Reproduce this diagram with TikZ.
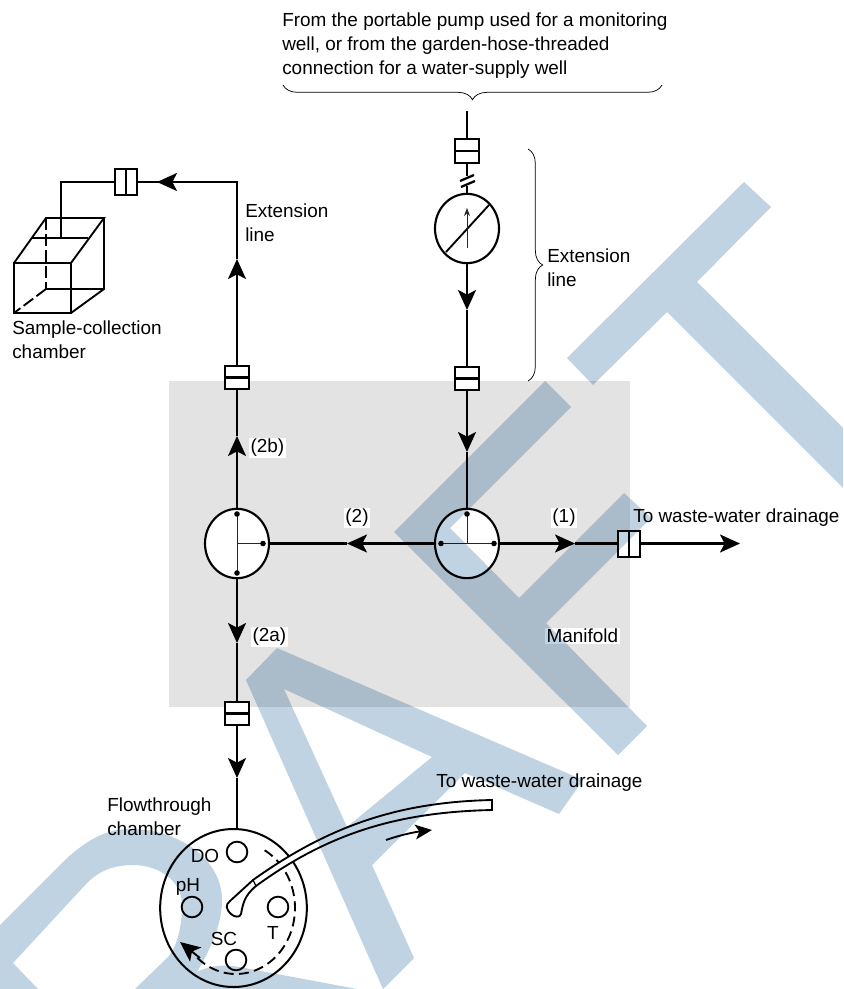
\documentclass[tikz,border=0pt]{standalone}
\usepackage{fontspec}
\setmainfont{Liberation Sans}
\usetikzlibrary{arrows.meta}
\usetikzlibrary{positioning}
\usetikzlibrary{shapes.geometric}
\usetikzlibrary{decorations.pathreplacing}
\definecolor{draftblue}{HTML}{C0D3E2}
\definecolor{manifoldgray}{HTML}{E3E3E3}
\tikzset{
  fitbox/.style={draw,fill=white,line width=1.6pt,minimum width=18pt,minimum height=17.5pt,inner sep=0pt},
  fitacross/.style={fitbox,path picture={\draw[line width=1.6pt] (path picture bounding box.west) -- (path picture bounding box.east);}},
  fitalong/.style={fitbox,minimum width=16.5pt,minimum height=19pt,path picture={\draw[line width=1.6pt] (path picture bounding box.north) -- (path picture bounding box.south);}},
  valve/.style={draw,fill=white,ellipse,line width=1.6pt,minimum width=48pt,minimum height=52pt,inner sep=0pt},
  port/.style={draw,circle,line width=1.4pt,minimum size=15.5pt,inner sep=0pt},
  lbl/.style={inner sep=0pt,align=left,font=\fontsize{14.2}{18}\selectfont},
  whitelbl/.style={lbl,fill=white,inner sep=1pt},
  flow/.style={->,line width=1.7pt},
  pipe/.style={line width=1.7pt},
  boxline/.style={line width=1.4pt},
  thinline/.style={line width=0.75pt,black!85},
  curlybrace/.style={decorate,decoration={brace,amplitude=11pt,aspect=0.5},line width=0.55pt}
}
\begin{document}
\begin{tikzpicture}[line cap=butt,line join=miter,>={Stealth[length=15pt,width=13.5pt,inset=3.5pt]},x=0.75pt,y=-0.75pt]
\useasboundingbox (0,0) rectangle (843,989);
\fill[white] (0,0) rectangle (843,989);
\fill[manifoldgray] (169,381) rectangle (630,707);
% labels
\node[lbl,anchor=north west] (fromlabel) at (282,13) {From the portable pump used for a monitoring\\well, or from the garden-hose-threaded\\connection for a water-supply well};
\node[lbl,anchor=north west] (extleft) at (245,204) {Extension\\line};
\node[lbl,anchor=north west] (extright) at (547,249) {Extension\\line};
\node[lbl,anchor=north west] (samplelabel) at (12,321) {Sample-collection\\chamber};
\node[whitelbl,anchor=west] (labeltwob) at (249,448) {(2b)};
\node[whitelbl,anchor=west] (labeltwoa) at (251,637) {(2a)};
\node[whitelbl] (labeltwo) at (357,518) {(2)};
\node[whitelbl] (labelone) at (564,518) {(1)};
\node[lbl,anchor=west] (drainright) at (633,518) {To waste-water drainage};
\node[whitelbl,anchor=west] (manifoldlabel) at (545,636) {Manifold};
\node[lbl,anchor=west] (drainlow) at (436,783) {To waste-water drainage};
\node[lbl,anchor=north west] (flowlabel) at (107,798) {Flowthrough\\chamber};
% fittings and valves
\node[fitacross] (fittop) at (467,151) {};
\node[fitacross] (fitright) at (467,378.5) {};
\node[fitacross] (fitleft) at (237,377.5) {};
\node[fitacross] (fitlow) at (237,713.5) {};
\node[fitalong] (fitsample) at (126,182) {};
\node[fitalong] (fitdrain) at (629,544) {};
\node[valve] (meter) at (467,228.5) {};
\node[valve] (valveleft) at (237,543.5) {};
\node[valve] (valveright) at (467,543.5) {};
\node[draw,fill=white,ellipse,line width=1.5pt,minimum width=110pt,minimum height=118.5pt,inner sep=0pt] (chamber) at (233.5,908) {};
% free ends and arrow points
\coordinate (pumpend) at (467,111);
\coordinate (breaktop) at (467,176);
\coordinate (breaklow) at (467,186);
\coordinate (corner) at (237,182);
\coordinate (boxcorner) at (61,182);
\coordinate (boxin) at (61,238);
\coordinate (chambertop) at (237,829.5);
\coordinate (tipup) at (237,259);
\coordinate (tipleft) at (157,182);
\coordinate (tiptwob) at (237,436);
\coordinate (tiptwoa) at (237,643);
\coordinate (tipchamber) at (237,778);
\coordinate (tipmeter) at (467,310);
\coordinate (tipvalve) at (467,452);
\coordinate (tiptwo) at (347,543.5);
\coordinate (tipone) at (575,543.5);
\coordinate (drainend) at (740,543.5);
% pipes
\draw[pipe] (pumpend) -- (fittop);
\draw[pipe] (fittop) -- (breaktop);
\draw[pipe] (breaklow) -- (meter);
\draw[pipe] (460,181) -- (474,175);
\draw[pipe] (461,187) -- (475,181);
\draw[flow] (meter) -- (tipmeter);
\draw[pipe] (tipmeter) -- (fitright);
\draw[flow] (fitright) -- (tipvalve);
\draw[pipe] (tipvalve) -- (valveright);
\draw[flow] (valveright) -- (tipone);
\draw[pipe] (tipone) -- (fitdrain.west |- tipone);
\draw[flow] (fitdrain.east |- tipone) -- (drainend);
\draw[flow] (valveright) -- (tiptwo);
\draw[pipe] (tiptwo) -- (valveleft);
\draw[flow] (valveleft) -- (tiptwob);
\draw[pipe] (tiptwob) -- (fitleft);
\draw[flow] (fitleft) -- (tipup);
\draw[pipe] (tipup) -- (corner) -- (tipleft);
\draw[flow] (corner) -- (tipleft);
\draw[pipe] (tipleft) -- (fitsample);
\draw[pipe] (fitsample) -- (boxcorner) -- (boxin);
\draw[flow] (valveleft) -- (tiptwoa);
\draw[pipe] (tiptwoa) -- (fitlow);
\draw[flow] (fitlow) -- (tipchamber);
\draw[pipe] (tipchamber) -- (chambertop);
% meter and valve insides
\draw[line width=1.4pt] (446,252) -- (489,205);
\draw[thinline,-{Stealth[length=6pt,width=4.5pt]}] (467,248) -- (467,208);
\draw[thinline] (467,514) -- (467,543.5);
\draw[thinline] (441,543.5) -- (494,543.5);
\draw[thinline] (237,514) -- (237,573);
\draw[thinline] (237,543.5) -- (263,543.5);
\foreach \x/\y in {467/514,441/543.5,494/543.5,237/514,237/573,263/543.5}
\fill (\x,\y) circle (2.1pt);
% sample box
\draw[boxline] (14,263) rectangle (71,313);
\draw[boxline] (14,263) -- (46,218) -- (104,218) -- (71,263);
\draw[boxline] (104,218) -- (104,289) -- (71,313);
\draw[boxline] (46,289) -- (104,289);
\draw[boxline,dash pattern=on 9pt off 3pt] (46,218) -- (46,289);
\draw[boxline,dash pattern=on 9pt off 3pt] (46,289) -- (14,313);
\draw[boxline] (32,238) -- (88,238);
% chamber
\foreach \n/\x/\y in {portdo/237/852,portph/192/907,portt/278/907,portsc/236/960}
\node[port] (\n) at (\x,\y) {};
\node[lbl] (dolabel) at (205,856) {DO};
\node[lbl] (phlabel) at (188,887) {pH};
\node[lbl] (tlabel) at (273,933) {T};
\node[lbl] (sclabel) at (224,939) {SC};
\draw[boxline,dash pattern=on 7.5pt off 4pt] plot[smooth,samples=60,domain=131:-66] ({236+59*cos(\x)},{908+66*sin(\x)});
\draw[boxline,-{Stealth[length=15pt,width=13.5pt,inset=3.5pt]}] (200,958) -- (180,942);
\draw[boxline,fill=white] (492,800) .. controls (400,802) and (330,825) .. (253,880) -- (230,901) .. controls (225,905) and (226,909) .. (231,914) .. controls (234,917) and (240,918) .. (241,914) .. controls (243,904) and (244,896) .. (256,886) .. controls (330,832) and (400,812) .. (492,810) -- cycle;
\draw[line width=1pt] (253,880) -- (256,886);
\draw[boxline,-{Stealth[length=12.5pt,width=11pt,inset=3pt]}] (386,840) .. controls (400,835) and (415,832) .. (432,830);
% braces
\draw[curlybrace] (662,85) -- (283,85);
\draw[curlybrace] (528,149) -- (528,381);
% watermark
\begin{scope}[blend mode=multiply]
\fill[draftblue] (744,182) -- (771,207) -- (697,282) -- (843,428) -- (843,488) -- (667,312) -- (593,385) -- (567,358) -- cycle;
\fill[draftblue] (545,381) -- (571,407) -- (450,528) -- (519,598) -- (624,493) -- (651,518) -- (546,623) -- (647,726) -- (618,755) -- (394,532) -- cycle;
\fill[draftblue,even odd rule] (277,648) -- (583,780) -- (559,814) -- (465,773) -- (372,865) -- (414,958) -- (383,989) -- (246,680) -- cycle (284,689) -- (432,757) -- (347,827) -- cycle;
\fill[draftblue] (0,925) -- (63,862) .. controls (88,838) and (108,829) .. (130,829) .. controls (180,829) and (222,860) .. (222,900) .. controls (222,925) and (210,950) .. (197,972) .. controls (210,965) and (225,964) .. (245,968) -- (357,989) -- (135,989) -- (168,957) .. controls (178,945) and (182,925) .. (182,905) .. controls (182,880) and (158,865) .. (133,865) .. controls (115,865) and (100,870) .. (87,883) -- (13,963) -- (38,989) -- (0,989) -- cycle;
\end{scope}
\end{tikzpicture}
\end{document}
